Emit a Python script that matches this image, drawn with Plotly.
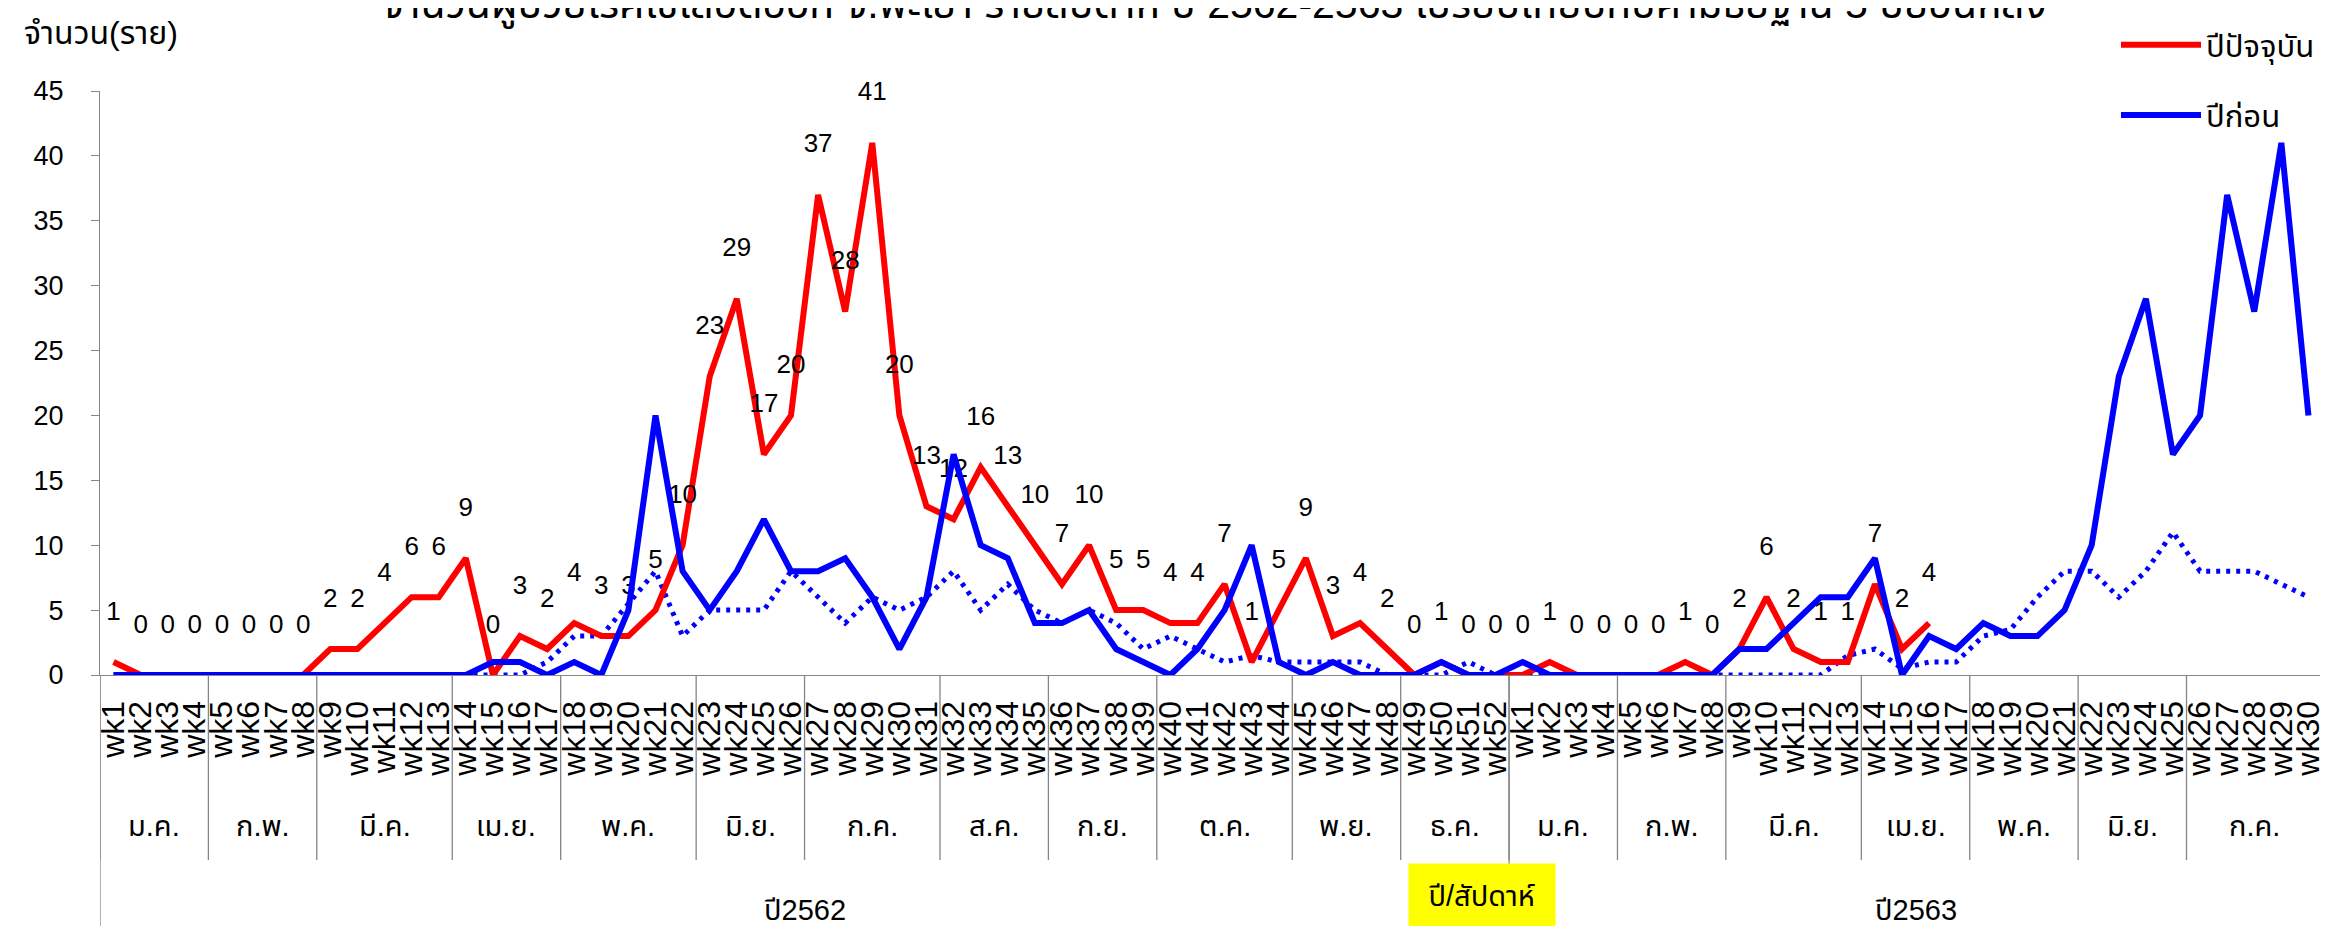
import plotly.graph_objects as go

# ---------------- data ----------------
weeks_2562 = [f"wk{i}" for i in range(1, 53)]
weeks_2563 = [f"wk{i}" for i in range(1, 31)]
week_labels = weeks_2562 + weeks_2563

months_2562 = ["ม.ค.", "ก.พ.", "มี.ค.", "เม.ย.", "พ.ค.", "มิ.ย.", "ก.ค.", "ส.ค.", "ก.ย.", "ต.ค.", "พ.ย.", "ธ.ค."]
month_weeks_2562 = [4, 4, 5, 4, 5, 4, 5, 4, 4, 5, 4, 4]
months_2563 = ["ม.ค.", "ก.พ.", "มี.ค.", "เม.ย.", "พ.ค.", "มิ.ย.", "ก.ค."]
month_weeks_2563 = [4, 4, 5, 4, 4, 4, 5]
years = ["ปี2562", "ปี2563"]

# current year (red) 2562 wk1-52, 2563 wk1-16
current_2562 = [1, 0, 0, 0, 0, 0, 0, 0, 2, 2, 4, 6, 6, 9, 0, 3, 2, 4, 3, 3, 5, 10, 23, 29, 17, 20,
                37, 28, 41, 20, 13, 12, 16, 13, 10, 7, 10, 5, 5, 4, 4, 7, 1, 5, 9, 3, 4, 2, 0, 1, 0, 0]
current_2563 = [0, 1, 0, 0, 0, 0, 1, 0, 2, 6, 2, 1, 1, 7, 2, 4]

# previous year (blue)
previous_2562 = [0, 0, 0, 0, 0, 0, 0, 0, 0, 0, 0, 0, 0, 0, 1, 1, 0, 1, 0, 5, 20, 8, 5, 8, 12, 8,
                 8, 9, 6, 2, 6, 17, 10, 9, 4, 4, 5, 2, 1, 0, 2, 5, 10, 1, 0, 1, 0, 0, 0, 1, 0, 0]
previous_2563 = [1, 0, 0, 0, 0, 0, 0, 0, 2, 2, 4, 6, 6, 9, 0, 3, 2, 4, 3, 3, 5, 10, 23, 29, 17, 20,
                 37, 28, 41, 20]

# 5-year median (blue dotted)
median_2562 = [0, 0, 0, 0, 0, 0, 0, 0, 0, 0, 0, 0, 0, 0, 0, 0, 1, 3, 3, 5.5, 8, 3, 5, 5, 5, 8,
               6, 4, 6, 5, 6, 8, 5, 7, 5, 4, 5, 4, 2, 3, 2, 1, 1.5, 1, 1, 1, 1, 0, 0, 0, 1, 0]
median_2563 = [0, 0, 0, 0, 0, 0, 0, 0, 0, 0, 0, 0, 1.5, 2, 0.5, 1, 1, 3, 3.5, 6, 8, 8, 6, 8, 11, 8,
               8, 8, 7, 6]

title_text = "จำนวนผู้ป่วยโรคไข้เลือดออก จ.พะเยา รายสัปดาห์ ปี 2562-2563 เปรียบเทียบกับค่ามัธยฐาน 5 ปีย้อนหลัง"
y_title = "จำนวน(ราย)"
x_title = "ปี/สัปดาห์"
legend_current = "ปีปัจจุบัน"
legend_previous = "ปีก่อน"

# ---------------- build ----------------
FONT = "Tahoma, 'Liberation Sans', 'Noto Sans Thai', 'Noto Sans', sans-serif"
AX = "#868686"

x_all = list(range(len(week_labels)))
current = current_2562 + current_2563
previous = previous_2562 + previous_2563
median = median_2562 + median_2563

# pixel geometry of the plot area
TOP, BOTTOM, LEFT, RIGHT = 83, 667, 92, 2314
H = BOTTOM - TOP
W = RIGHT - LEFT


def py(px):
    return (BOTTOM - px) / H


def px_(x):
    return (x - LEFT) / W


fig = go.Figure()

fig.add_trace(go.Scatter(
    x=x_all, y=median, mode="lines", showlegend=False,
    line=dict(color="#0000FF", width=5, dash="4px,6px"), hoverinfo="skip"))

fig.add_trace(go.Scatter(
    x=x_all[:len(current)], y=current, mode="lines+markers+text",
    name=legend_current, legendgroup="a", cliponaxis=False,
    line=dict(color="#FF0000", width=6),
    marker=dict(size=56, color="rgba(0,0,0,0)"),
    text=[str(v) for v in current], textposition="top center",
    textfont=dict(family=FONT, size=26, color="#000000")))

fig.add_trace(go.Scatter(
    x=x_all, y=previous, mode="lines", name=legend_previous, legendgroup="b",
    line=dict(color="#0000FF", width=6)))

shapes = []
annotations = []


def add_months(start, names, counts):
    pos = start
    for name, n in zip(names, counts):
        shapes.append(dict(type="line", xref="x", yref="paper", x0=pos - 0.5, x1=pos - 0.5,
                           y0=0, y1=py(852), line=dict(color=AX, width=1.3)))
        annotations.append(dict(x=pos + (n - 1) / 2, y=py(818), xref="x", yref="paper",
                                text=name, showarrow=False, xanchor="center", yanchor="middle",
                                font=dict(family=FONT, size=29, color="#000000")))
        pos += n
    return pos


end1 = add_months(0, months_2562, month_weeks_2562)
end2 = add_months(end1, months_2563, month_weeks_2563)

for xb in [0, end1, end2]:
    shapes.append(dict(type="line", xref="x", yref="paper", x0=xb - 0.5, x1=xb - 0.5,
                       y0=0, y1=py(930), line=dict(color=AX, width=1.3)))

for name, (a, b) in zip(years, [(0, end1), (end1, end2)]):
    annotations.append(dict(x=(a + b - 1) / 2, y=py(902), xref="x", yref="paper",
                            text=name, showarrow=False, xanchor="center", yanchor="middle",
                            font=dict(family=FONT, size=29, color="#000000")))

annotations.append(dict(x=50.5, y=py(888), xref="x", yref="paper", text=x_title,
                        showarrow=False, bgcolor="#FFFF00", width=144, height=62,
                        xanchor="center", yanchor="middle",
                        font=dict(family=FONT, size=29, color="#000000")))

annotations.append(dict(x=px_(14), y=py(25), xref="paper", yref="paper", text=y_title,
                        showarrow=False, xanchor="left", yanchor="middle",
                        font=dict(family=FONT, size=32, color="#000000")))

annotations.append(dict(x=px_(1206), y=py(-3), xref="paper", yref="paper",
                        text=title_text, showarrow=False, xanchor="center", yanchor="middle",
                        font=dict(family=FONT, size=41, color="#000000")))

fig.update_layout(
    width=2328, height=926,
    margin=dict(l=LEFT, r=2328 - RIGHT, t=TOP, b=926 - BOTTOM, autoexpand=False),
    plot_bgcolor="white", paper_bgcolor="white",
    font=dict(family=FONT, size=24, color="#000000"),
    shapes=shapes, annotations=annotations,
    legend=dict(x=px_(2108), y=py(10), xanchor="left", yanchor="top",
                bgcolor="rgba(0,0,0,0)", font=dict(family=FONT, size=31),
                tracegroupgap=27, itemwidth=80),
    xaxis=dict(range=[-0.5, len(week_labels) - 0.5], tickmode="array", tickvals=x_all,
               ticktext=week_labels, tickangle=-90, showline=True, linecolor=AX, linewidth=1.3,
               ticks="", showgrid=False, zeroline=False, ticklabelstandoff=12,
               tickfont=dict(family=FONT, size=32, color="#000000")),
    yaxis=dict(range=[0, 45], dtick=5, showline=True, linecolor=AX, linewidth=1.3,
               ticks="outside", ticklen=8, tickcolor=AX, showgrid=False, zeroline=False,
               ticklabelstandoff=22,
               tickfont=dict(family=FONT, size=27, color="#000000")),
)

fig.write_html("out.html")
